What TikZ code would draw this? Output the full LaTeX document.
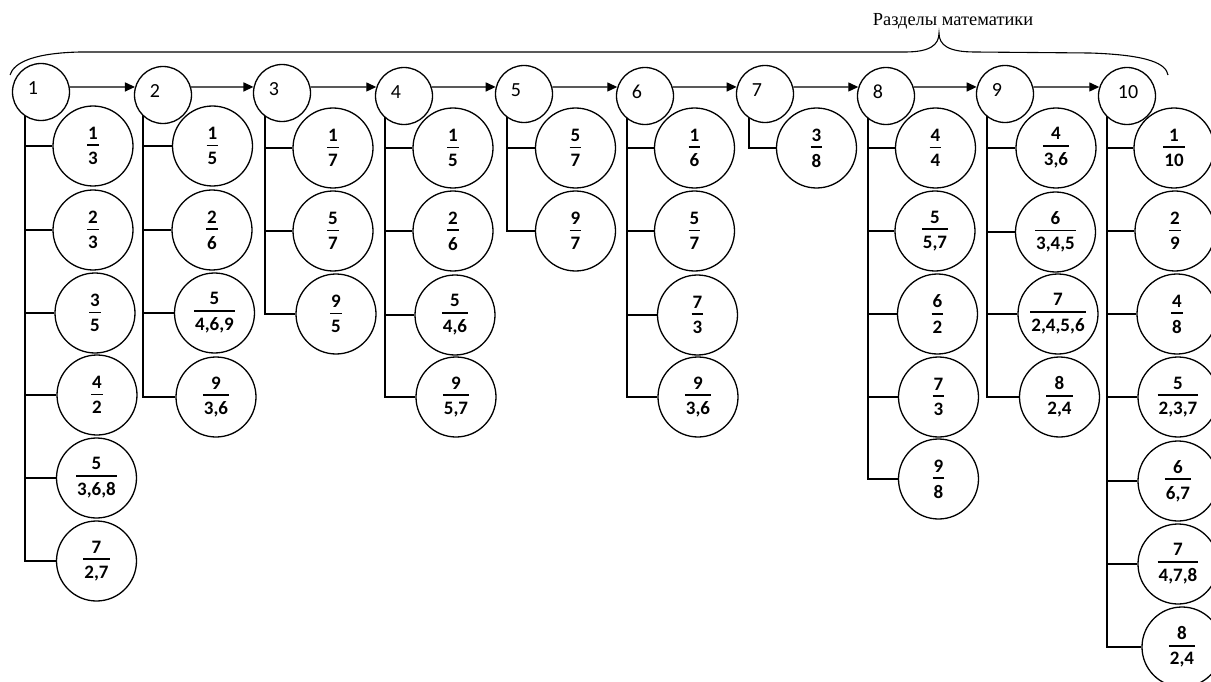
\documentclass[tikz,border=0pt]{standalone}
\usepackage{fontspec}
\setmainfont{Liberation Serif}
\newfontfamily\carl{Carlito}
\usetikzlibrary{arrows.meta,backgrounds}
\newcommand\fr[2]{%
  \setbox0=\hbox{#1}\setbox2=\hbox{#2}%
  \dimen0=\wd0 \ifdim\wd2>\dimen0 \dimen0=\wd2 \fi
  \advance\dimen0 by 2pt
  \vbox{\offinterlineskip\halign{\hfil##\hfil\cr\box0\cr\noalign{\kern5pt}\vrule width\dimen0 height1.8pt depth0pt\cr\noalign{\kern6pt}\box2\cr}}}
\tikzset{
  top/.style={circle,draw,fill=white,line width=1.3pt,minimum size=57pt,inner sep=0pt},
  kid/.style={circle,draw,fill=white,line width=1.3pt,minimum size=80pt,inner sep=0pt,font=\carl\bfseries\fontsize{19}{21}\selectfont},
  link/.style={line width=1.3pt},
  arr/.style={line width=1.3pt,-{Triangle[length=10pt,width=9pt]}},
  num/.style={font=\carl\fontsize{20}{22}\selectfont,inner sep=0pt}
}
\begin{document}
\begin{tikzpicture}[x=1pt,y=-1pt]
\useasboundingbox (0,0) rectangle (1211,682);
\clip (0,0) rectangle (1211,682);
% title and brace
\node[font=\fontsize{18.4}{20}\selectfont,anchor=base,inner sep=0pt] (title) at (953,26) {Разделы математики};
\coordinate (btip) at (939,33);
\draw[line width=1.1pt] (10,75) .. controls (14,62) and (35,53) .. (80,52) -- (905,52) .. controls (930,52) and (939,45) .. (btip) .. controls (939,45) and (948,52) .. (975,52) -- (1090,53) .. controls (1150,55) and (1166,64) .. (1168,75);
% top row
\node[top,label={[num,xshift=-8pt,yshift=4pt]center:1}] (n1) at (41,92) {};
\node[top,label={[num,xshift=-8pt,yshift=4pt]center:2}] (n2) at (163,95) {};
\node[top,label={[num,xshift=-8pt,yshift=4pt]center:3}] (n3) at (282,93) {};
\node[top,label={[num,xshift=-8pt,yshift=4pt]center:4}] (n4) at (404,96) {};
\node[top,label={[num,xshift=-8pt,yshift=4pt]center:5}] (n5) at (524,94) {};
\node[top,label={[num,xshift=-8pt,yshift=4pt]center:6}] (n6) at (645,96) {};
\node[top,label={[num,xshift=-8pt,yshift=4pt]center:7}] (n7) at (765,94) {};
\node[top,label={[num,xshift=-8pt,yshift=4pt]center:8}] (n8) at (886,96) {};
\node[top,label={[num,xshift=-8pt,yshift=4pt]center:9}] (n9) at (1005,94) {};
\node[top,label={[num,xshift=1pt,yshift=4pt]center:10}] (n10) at (1127,96) {};
\draw[arr] (n1.10) -- (n2.164);
\draw[arr] (n2.16) -- (n3.168);
\draw[arr] (n3.12) -- (n4.162);
\draw[arr] (n4.18) -- (n5.166);
\draw[arr] (n5.14) -- (n6.162);
\draw[arr] (n6.18) -- (n7.166);
\draw[arr] (n7.14) -- (n8.162);
\draw[arr] (n8.18) -- (n9.166);
\draw[arr] (n9.14) -- (n10.162);
% column 1
\node[kid] (c1-1) at (93,146) {\fr{1}{3}};
\node[kid] (c1-2) at (93,230) {\fr{2}{3}};
\node[kid] (c1-3) at (95,313) {\fr{3}{5}};
\node[kid] (c1-4) at (97,395) {\fr{4}{2}};
\node[kid] (c1-5) at (96.5,478) {\fr{5}{3,6,8}};
\node[kid] (c1-6) at (96.5,561) {\fr{7}{2,7}};
% column 2
\node[kid] (c2-1) at (212.5,146) {\fr{1}{5}};
\node[kid] (c2-2) at (212,230) {\fr{2}{6}};
\node[kid] (c2-3) at (214.5,313) {\fr{5}{4,6,9}};
\node[kid] (c2-4) at (216,397) {\fr{9}{3,6}};
% column 3
\node[kid] (c3-1) at (333,148) {\fr{1}{7}};
\node[kid] (c3-2) at (333,231) {\fr{5}{7}};
\node[kid] (c3-3) at (336,314) {\fr{9}{5}};
% column 4
\node[kid] (c4-1) at (453,148) {\fr{1}{5}};
\node[kid] (c4-2) at (453,231) {\fr{2}{6}};
\node[kid] (c4-3) at (455,315) {\fr{5}{4,6}};
\node[kid] (c4-4) at (456,397) {\fr{9}{5,7}};
% column 5
\node[kid] (c5-1) at (575.5,148) {\fr{5}{7}};
\node[kid] (c5-2) at (575.5,231) {\fr{9}{7}};
% column 6
\node[kid] (c6-1) at (694.5,148) {\fr{1}{6}};
\node[kid] (c6-2) at (694.5,231) {\fr{5}{7}};
\node[kid] (c6-3) at (697.5,315) {\fr{7}{3}};
\node[kid] (c6-4) at (698,397) {\fr{9}{3,6}};
% column 7
\node[kid] (c7-1) at (816.5,148) {\fr{3}{8}};
% column 8
\node[kid] (c8-1) at (935.5,148) {\fr{4}{4}};
\node[kid] (c8-2) at (935,231) {\fr{5}{5,7}};
\node[kid] (c8-3) at (937.5,314) {\fr{6}{2}};
\node[kid] (c8-4) at (938.5,397) {\fr{7}{3}};
\node[kid] (c8-5) at (938.5,479) {\fr{9}{8}};
% column 9
\node[kid] (c9-1) at (1056,148) {\fr{4}{3,6}};
\node[kid] (c9-2) at (1055.5,232) {\fr{6}{3,4,5}};
\node[kid] (c9-3) at (1058,314) {\fr{7}{2,4,5,6}};
\node[kid] (c9-4) at (1059.5,397) {\fr{8}{2,4}};
% column 10
\node[kid] (c10-1) at (1174,148) {\fr{1}{10}};
\node[kid] (c10-2) at (1175,231) {\fr{2}{9}};
\node[kid] (c10-3) at (1177,314) {\fr{4}{8}};
\node[kid] (c10-4) at (1178,397) {\fr{5}{2,3,7}};
\node[kid] (c10-5) at (1178,481) {\fr{6}{6,7}};
\node[kid] (c10-6) at (1178,564) {\fr{7}{4,7,8}};
\node[kid] (c10-7) at (1182,647) {\fr{8}{2,4}};
% tree lines
\begin{scope}[on background layer]
\coordinate (v1) at (25,92);
\coordinate (v2) at (143,95);
\coordinate (v3) at (265,93);
\coordinate (v4) at (385,96);
\coordinate (v5) at (507,94);
\coordinate (v6) at (627,96);
\coordinate (v7) at (749,94);
\coordinate (v8) at (868,96);
\coordinate (v9) at (987,94);
\coordinate (v10) at (1107,96);
\draw[link] (v1) |- (c1-6.west);
\foreach \k in {1,...,5} \draw[link] (v1 |- c1-\k) -- (c1-\k.west);
\draw[link] (v2) |- (c2-4.west);
\foreach \k in {1,...,3} \draw[link] (v2 |- c2-\k) -- (c2-\k.west);
\draw[link] (v3) |- (c3-3.west);
\foreach \k in {1,2} \draw[link] (v3 |- c3-\k) -- (c3-\k.west);
\draw[link] (v4) |- (c4-4.west);
\foreach \k in {1,...,3} \draw[link] (v4 |- c4-\k) -- (c4-\k.west);
\draw[link] (v5) |- (c5-2.west);
\draw[link] (v5 |- c5-1) -- (c5-1.west);
\draw[link] (v6) |- (c6-4.west);
\foreach \k in {1,...,3} \draw[link] (v6 |- c6-\k) -- (c6-\k.west);
\draw[link] (v7) |- (c7-1.west);
\draw[link] (v8) |- (c8-5.west);
\foreach \k in {1,...,4} \draw[link] (v8 |- c8-\k) -- (c8-\k.west);
\draw[link] (v9) |- (c9-4.west);
\foreach \k in {1,...,3} \draw[link] (v9 |- c9-\k) -- (c9-\k.west);
\draw[link] (v10) |- (c10-7.west);
\foreach \k in {1,...,6} \draw[link] (v10 |- c10-\k) -- (c10-\k.west);
\end{scope}
\end{tikzpicture}
\end{document}
